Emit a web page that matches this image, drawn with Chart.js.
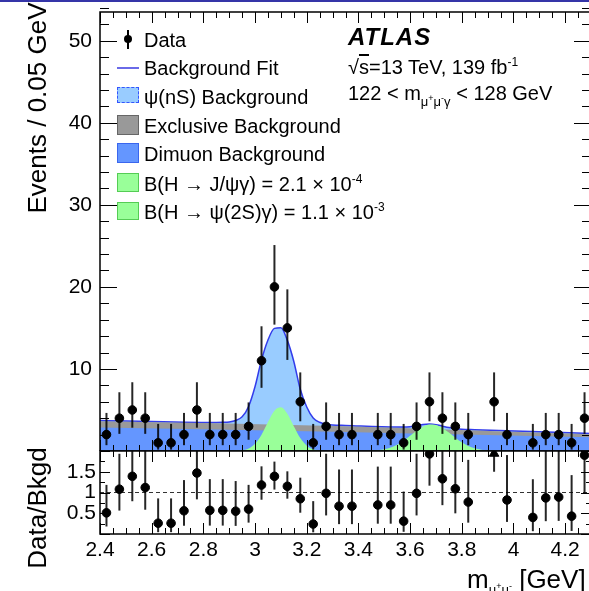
<!DOCTYPE html>
<html>
<head>
<meta charset="utf-8">
<script src="https://cdn.jsdelivr.net/npm/chart.js@4.4.0/dist/chart.umd.min.js"></script>
<style>
html, body { margin: 0; padding: 0; background: #fff; overflow: hidden; }
#wrap { position: relative; width: 589px; height: 591px; overflow: hidden;
        font-family: 'Liberation Sans', Arial, Helvetica, sans-serif; color: #000; }
#topline { position: absolute; left: 0; top: 0; width: 589px; height: 2px; background: #3535a8; }
#main { position: absolute; left: 0; top: 0; }
#ratio { position: absolute; left: 0; top: 450px; }
.t { position: absolute; white-space: nowrap; line-height: 1; }
.leg { font-size: 20px; left: 144px; }
.box { position: absolute; left: 117px; width: 20px; box-sizing: border-box; }
.sub { font-size: 13px; position: relative; top: 6px; }
.sub sup { font-size: 9px; vertical-align: 5px; }
sup.e { font-size: 12px; vertical-align: 8px; }
.rot { transform: translate(-50%, -50%) rotate(-90deg); }
</style>
</head>
<body>
<div id="wrap">
  <canvas id="main" width="595" height="451"></canvas>
  <canvas id="ratio" width="595" height="141"></canvas>
  <div id="topline"></div>

  <!-- axis titles -->
  <div class="t rot" style="left:37px; top:108px; font-size:26px;">Events / 0.05 GeV</div>
  <div class="t rot" style="left:37px; top:508px; font-size:26px;">Data/Bkgd</div>
  <div class="t" style="left:467px; top:566px; font-size:26px;">m<span class="sub">μ<sup>+</sup>μ<sup>-</sup></span> [GeV]</div>

  <!-- legend -->
  <div style="position:absolute; left:127px; top:30px; width:2px; height:19px; background:#000;"></div>
  <div style="position:absolute; left:124px; top:35px; width:8px; height:8px; border-radius:50%; background:#000;"></div>
  <div class="t leg" style="top:30px;">Data</div>
  <div style="position:absolute; left:117px; top:67px; width:22px; height:1.5px; background:#6a6ae8;"></div>
  <div class="t leg" style="top:58px;">Background Fit</div>
  <div class="box" style="top:87px; width:22px; height:16px; background:#99ccff; border:1.5px dashed #3355ff;"></div>
  <div class="t leg" style="top:87px;">ψ(nS) Background</div>
  <div class="box" style="top:115px; width:22px; height:20px; background:#999; border:1.5px solid #666;"></div>
  <div class="t leg" style="top:116px;">Exclusive Background</div>
  <div class="box" style="top:143px; width:22px; height:20px; background:#6496ff; border:1.5px solid #3a66ee;"></div>
  <div class="t leg" style="top:144px;">Dimuon Background</div>
  <div class="box" style="top:173px; width:22px; height:19px; background:#99ff99; border:1.5px solid #5c5;"></div>
  <div class="t leg" style="top:173px;">B(H → J/ψγ) = 2.1 × 10<sup class="e">-4</sup></div>
  <div class="box" style="top:202px; width:22px; height:18px; background:#99ff99; border:1.5px solid #5c5;"></div>
  <div class="t leg" style="top:201px;">B(H → ψ(2S)γ) = 1.1 × 10<sup class="e">-3</sup></div>

  <!-- ATLAS label -->
  <div class="t" style="left:348px; top:25px; font-size:24px; font-weight:bold; font-style:italic; letter-spacing:1px;">ATLAS</div>
  <div class="t" style="left:348px; top:56px; font-size:20px;">√<span style="text-decoration:overline;">s</span>=13 TeV, 139 fb<sup class="e">-1</sup></div>
  <div class="t" style="left:348px; top:83px; font-size:20px;">122 &lt; m<span class="sub">μ<sup>+</sup>μ<sup>-</sup>γ</span> &lt; 128 GeV</div>
</div>

<script>
// binned data (bin width 0.05 GeV)
const binCenters = [2.425, 2.475, 2.525, 2.575, 2.625, 2.675, 2.725, 2.775, 2.825, 2.875,
                    2.925, 2.975, 3.025, 3.075, 3.125, 3.175, 3.225, 3.275, 3.325, 3.375,
                    3.425, 3.475, 3.525, 3.575, 3.625, 3.675, 3.725, 3.775, 3.825, 3.875,
                    3.925, 3.975, 4.025, 4.075, 4.125, 4.175, 4.225, 4.275];
const counts = [2, 4, 5, 4, 1, 1, 2, 5, 2, 2,
                2, 3, 11, 20, 15, 6, 1, 3, 2, 2,
                null, 2, 2, 1, 3, 6, 4, 3, 2, null,
                6, 2, null, 1, 2, 2, 1, 4];
const ratio = [0.51, 1.08, 1.39, 1.12, 0.26, 0.26, 0.56, 1.47, 0.57, 0.57,
               0.55, 0.60, 1.18, 1.39, 1.15, 0.85, 0.24, 0.98, 0.67, 0.67,
               null, 0.70, 0.70, 0.31, 0.98, 1.93, 1.33, 1.09, 0.77, null,
               null, 0.82, null, 0.40, 0.87, 0.89, 0.43, 1.90];

// poisson error bar ends for each count
const poissonN  = [1, 2, 3, 4, 5, 6, 11, 15, 20];
const poissonLo = [0.17, 0.71, 1.37, 2.09, 2.84, 3.62, 7.7, 11.1, 15.4];
const poissonHi = [3.30, 4.64, 5.92, 7.16, 8.38, 9.58, 15.2, 19.7, 25.1];

// off-scale ratio point
const arrowMass = [3.925];
const arrowTip = [1.94];
const arrowBase = [1.5];

// background components
const bkgMass = [2.4, 2.85, 3.35, 3.85, 4.3];
const dimuonBkg = [2.85, 2.63, 2.33, 1.97, 1.67];
const exclusiveBkg = [0.78, 0.75, 0.68, 0.53, 0.37];

// total background fit (incl. psi(nS))
const fitMass = [2.4, 2.85, 2.875, 2.9, 2.925, 2.95, 2.975, 3.0, 3.025, 3.05, 3.075, 3.1, 3.125,
                 3.15, 3.175, 3.2, 3.225, 3.25, 3.275, 3.3, 3.35, 3.55, 3.575, 3.6, 3.625, 3.65,
                 3.675, 3.7, 3.725, 3.75, 3.775, 3.8, 3.85, 4.3];
const fitTotal = [3.73, 3.48, 3.49, 3.54, 3.72, 4.16, 5.43, 7.86, 11.1, 13.53, 14.94, 15.03, 13.48,
                  10.91, 7.52, 5.36, 4.02, 3.5, 3.27, 3.17, 3.11, 2.91, 2.91, 2.96, 3.08, 3.23,
                  3.28, 3.21, 3.03, 2.86, 2.73, 2.65, 2.6, 2.14];

// signals
const jpsiMass = [2.9, 2.925, 2.95, 2.975, 3.0, 3.025, 3.05, 3.075, 3.1, 3.125, 3.15, 3.175,
                  3.2, 3.225, 3.25, 3.275, 3.3];
const jpsiSignal = [0, 0.02, 0.08, 0.3, 0.88, 1.99, 3.53, 4.91, 5.33, 4.54, 3.02, 1.57,
                    0.64, 0.2, 0.05, 0.01, 0];
const psi2sMass = [3.425, 3.45, 3.475, 3.5, 3.525, 3.55, 3.575, 3.6, 3.625, 3.65, 3.675, 3.7,
                   3.725, 3.75, 3.775, 3.8, 3.825, 3.85, 3.875, 3.9, 3.925, 3.95];
const psi2sSignal = [0, 0.04, 0.09, 0.21, 0.42, 0.76, 1.25, 1.85, 2.46, 2.97, 3.23, 3.17,
                     2.81, 2.25, 1.62, 1.06, 0.62, 0.33, 0.16, 0.07, 0.03, 0];

const xTicks = [2.4, 2.6, 2.8, 3.0, 3.2, 3.4, 3.6, 3.8, 4.0, 4.2];
const yTicks = [10, 20, 30, 40, 50];
const ratioTicks = [0.5, 1, 1.5];

const FONT = "'Liberation Sans', Arial, Helvetica, sans-serif";
const pts = (xs, ys) => xs.map((x, i) => ({ x: x, y: ys[i] }));

// no extra room for half labels, the chart area is set by the padding
const noPad = s => { s.paddingTop = 0; s.paddingBottom = 0; s.paddingLeft = 0; s.paddingRight = 0; };

// ROOT style frame with inward ticks on all sides
const rootFrame = {
    id: 'rootFrame',
    afterDraw(chart, args, o) {
        const { ctx, chartArea: a, scales } = chart;
        const x = scales.x, y = scales.y;
        ctx.save();
        ctx.strokeStyle = '#000';
        ctx.lineWidth = 1;
        const seg = (x1, y1, x2, y2) => { ctx.beginPath(); ctx.moveTo(x1, y1); ctx.lineTo(x2, y2); ctx.stroke(); };
        let n = Math.round((x.max - x.min) / o.xMinor);
        for (let i = 0; i <= n; i++) {
            const px = Math.round(x.getPixelForValue(x.min + i * o.xMinor)) + 0.5;
            const len = i % o.xEvery === 0 ? o.xMaj : o.xMin;
            seg(px, a.bottom, px, a.bottom - len);
            seg(px, a.top, px, a.top + len);
        }
        n = Math.round((y.max - y.min) / o.yMinor);
        for (let i = 0; i <= n; i++) {
            const py = Math.round(y.getPixelForValue(y.min + i * o.yMinor)) + 0.5;
            const len = i % o.yEvery === 0 ? o.yMaj : o.yMin;
            seg(a.left, py, a.left + len, py);
            seg(a.right, py, a.right - len, py);
        }
        ctx.lineWidth = 1.5;
        ctx.strokeRect(a.left, a.top, a.right - a.left, a.bottom - a.top);
        ctx.restore();
    }
};

// vertical error bars
const errorBars = {
    id: 'errorBars',
    afterDatasetsDraw(chart, args, o) {
        const { ctx, chartArea: a, scales: { x, y } } = chart;
        ctx.save();
        ctx.beginPath();
        ctx.rect(a.left, a.top, a.right - a.left, a.bottom - a.top);
        ctx.clip();
        ctx.strokeStyle = 'rgba(0,0,0,0.85)';
        ctx.lineWidth = 2;
        o.bars.forEach(b => {
            const px = x.getPixelForValue(b.x);
            ctx.beginPath();
            ctx.moveTo(px, y.getPixelForValue(b.lo));
            ctx.lineTo(px, y.getPixelForValue(b.hi));
            ctx.stroke();
        });
        ctx.restore();
    }
};

const mainBars = [];
const ratioBars = [];
binCenters.forEach((m, i) => {
    const n = counts[i];
    if (n == null) return;
    const k = poissonN.indexOf(n);
    mainBars.push({ x: m, lo: poissonLo[k], hi: poissonHi[k] });
    if (ratio[i] != null) {
        ratioBars.push({ x: m, lo: ratio[i] * poissonLo[k] / n, hi: ratio[i] * poissonHi[k] / n });
    }
});
arrowMass.forEach((m, i) => ratioBars.push({ x: m, lo: arrowBase[i], hi: arrowTip[i] }));

const exclusiveTop = dimuonBkg.map((v, i) => v + exclusiveBkg[i]);

const area = (data, color, order) => ({
    data: data, backgroundColor: color, borderWidth: 0, pointRadius: 0,
    fill: 'origin', cubicInterpolationMode: 'monotone', order: order
});

new Chart(document.getElementById('main'), {
    type: 'line',
    data: {
        datasets: [
            {
                data: pts(binCenters, counts), showLine: false, pointRadius: 4.3,
                pointBackgroundColor: '#000', pointBorderColor: '#000', order: 0
            },
            area(pts(jpsiMass, jpsiSignal), 'rgb(153,255,153)', 2),
            area(pts(psi2sMass, psi2sSignal), 'rgb(153,255,153)', 2),
            area(pts(bkgMass, dimuonBkg), 'rgb(100,150,255)', 4),
            area(pts(bkgMass, exclusiveTop), 'rgb(153,153,153)', 5),
            Object.assign(area(pts(fitMass, fitTotal), 'rgb(153,204,255)', 6),
                { borderWidth: 1.5, borderColor: 'rgb(50,60,235)' })
        ]
    },
    options: {
        responsive: false,
        animation: false,
        events: [],
        layout: { autoPadding: false, padding: { top: 12, right: 4, bottom: 0, left: 0 } },
        plugins: {
            legend: { display: false },
            tooltip: { enabled: false },
            rootFrame: { xMinor: 0.05, xEvery: 4, xMaj: 11, xMin: 6, yMinor: 2, yEvery: 5, yMaj: 17, yMin: 9 },
            errorBars: { bars: mainBars }
        },
        scales: {
            x: { type: 'linear', min: 2.4, max: 4.3, display: false },
            y: {
                min: 0, max: 53.5,
                afterBuildTicks: s => { s.ticks = yTicks.map(v => ({ value: v })); },
                afterFit: s => { s.width = 100; noPad(s); },
                grid: { display: false, drawTicks: false },
                border: { display: false },
                ticks: { color: '#000', padding: 8, font: { family: FONT, size: 21 } }
            }
        }
    },
    plugins: [rootFrame, errorBars]
});

new Chart(document.getElementById('ratio'), {
    type: 'line',
    data: {
        datasets: [
            {
                data: pts(binCenters, ratio), showLine: false, pointRadius: 4.3,
                pointBackgroundColor: '#000', pointBorderColor: '#000', order: 0
            },
            {
                data: pts(arrowMass, arrowTip), showLine: false, pointStyle: 'triangle', pointRadius: 5.5,
                pointBackgroundColor: '#000', pointBorderColor: '#000', order: 0
            },
            {
                data: [{ x: 2.4, y: 1 }, { x: 4.3, y: 1 }], borderColor: '#333', borderWidth: 1,
                borderDash: [4, 3], pointRadius: 0, order: 3
            }
        ]
    },
    options: {
        responsive: false,
        animation: false,
        events: [],
        layout: { autoPadding: false, padding: { top: 1, right: 4, bottom: 0, left: 0 } },
        plugins: {
            legend: { display: false },
            tooltip: { enabled: false },
            rootFrame: { xMinor: 0.05, xEvery: 4, xMaj: 11, xMin: 6, yMinor: 0.25, yEvery: 2, yMaj: 10, yMin: 5 },
            errorBars: { bars: ratioBars }
        },
        scales: {
            x: {
                type: 'linear', min: 2.4, max: 4.3,
                afterBuildTicks: s => { s.ticks = xTicks.map(v => ({ value: v })); },
                afterFit: s => { s.height = 57; noPad(s); },
                grid: { display: false, drawTicks: false },
                border: { display: false },
                ticks: {
                    color: '#000', padding: 4, maxRotation: 0, autoSkip: false,
                    font: { family: FONT, size: 21 },
                    callback: v => String(+v.toFixed(1))
                }
            },
            y: {
                min: 0, max: 2,
                afterBuildTicks: s => { s.ticks = ratioTicks.map(v => ({ value: v })); },
                afterFit: s => { s.width = 100; noPad(s); },
                grid: { display: false, drawTicks: false },
                border: { display: false },
                ticks: { color: '#000', padding: 4, font: { family: FONT, size: 21 }, callback: v => String(v) }
            }
        }
    },
    plugins: [rootFrame, errorBars]
});
</script>
</body>
</html>
